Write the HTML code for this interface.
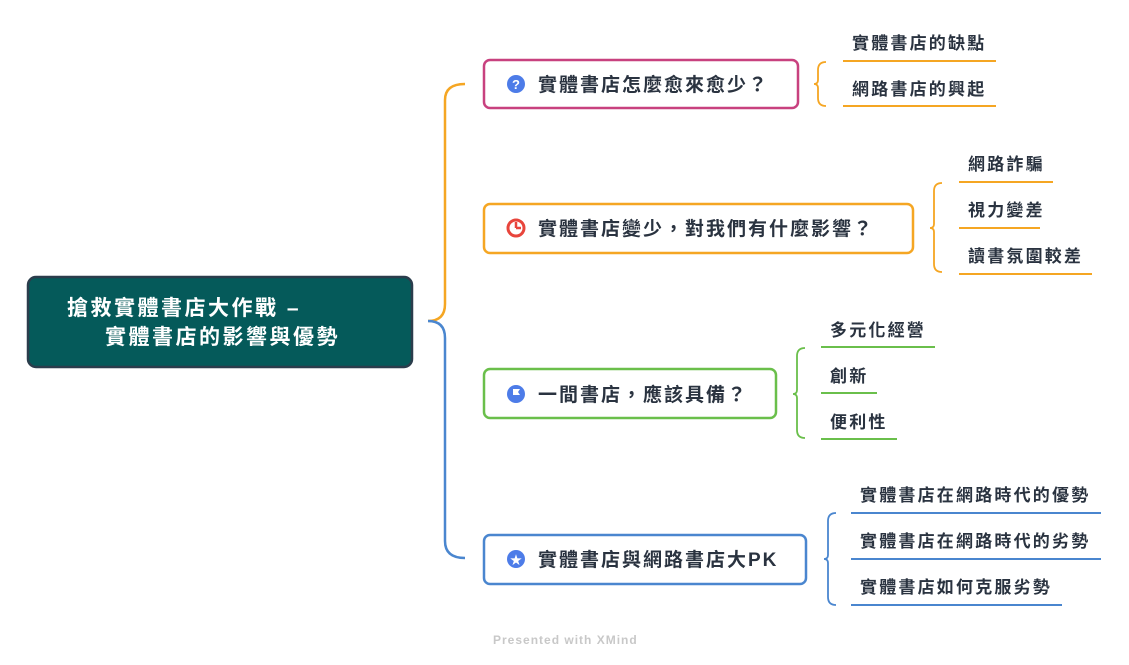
<!DOCTYPE html>
<html><head><meta charset="utf-8"><style>
html,body{margin:0;padding:0;background:#fff;}
svg{display:block;}
text{font-family:"Liberation Sans","Noto Sans CJK TC",sans-serif;font-weight:bold;}
.b{font-size:19px;letter-spacing:2px;}
.l{font-size:17px;letter-spacing:2.2px;}
</style></head><body>
<svg width="1129" height="665" viewBox="0 0 1129 665" xmlns="http://www.w3.org/2000/svg">
<path d="M428,321 Q445,321 445,304 L445,100 Q445,84 465,84" fill="none" stroke="#f5a623" stroke-width="2.5"/>
<path d="M428,321 Q445,321 445,338 L445,541 Q445,558 465,558" fill="none" stroke="#4a86cf" stroke-width="2.5"/>
<rect x="28" y="277" width="384" height="90" rx="8" fill="#055a5a" stroke="#2b3d4c" stroke-width="2.5"/>
<text x="67" y="315" font-size="21" letter-spacing="2.5" fill="#fff">搶救實體書店大作戰 –</text>
<text x="105" y="344" font-size="21" letter-spacing="2.5" fill="#fff">實體書店的影響與優勢</text>

<rect x="484" y="60" width="314" height="48" rx="6" fill="#fff" stroke="#c8417f" stroke-width="2.5"/>
<circle cx="516" cy="84" r="9" fill="#4d7ce8"/><text x="516" y="89" font-size="13" fill="#fff" text-anchor="middle">?</text>
<text x="538" y="91" class="b" fill="#2a3340">實體書店怎麼愈來愈少？</text>
<path d="M826,62 Q818,62 818,70 L818,80 Q818,84 814,84 Q818,84 818,88 L818,98 Q818,106 826,106" fill="none" stroke="#f5a623" stroke-width="1.8"/>
<text x="852" y="49" class="l" fill="#2a3340">實體書店的缺點</text>
<line x1="843" y1="61" x2="996" y2="61" stroke="#f5a623" stroke-width="2"/>
<text x="852" y="95" class="l" fill="#2a3340">網路書店的興起</text>
<line x1="843" y1="106" x2="996" y2="106" stroke="#f5a623" stroke-width="2"/>

<rect x="484" y="204" width="429" height="49" rx="6" fill="#fff" stroke="#f5a623" stroke-width="2.5"/>
<circle cx="516" cy="228" r="8" fill="none" stroke="#e8453c" stroke-width="3"/><path d="M516,228 L516,222 M516,228 L521,228" stroke="#e8453c" stroke-width="2.5"/>
<text x="538" y="235" class="b" fill="#2a3340">實體書店變少，對我們有什麼影響？</text>
<path d="M942,183 Q934,183 934,191 L934,224 Q934,228 930,228 Q934,228 934,232 L934,264 Q934,272 942,272" fill="none" stroke="#f5a623" stroke-width="1.8"/>
<text x="968" y="170" class="l" fill="#2a3340">網路詐騙</text>
<line x1="959" y1="182" x2="1053" y2="182" stroke="#f5a623" stroke-width="2"/>
<text x="968" y="216" class="l" fill="#2a3340">視力變差</text>
<line x1="959" y1="228" x2="1040" y2="228" stroke="#f5a623" stroke-width="2"/>
<text x="968" y="262" class="l" fill="#2a3340">讀書氛圍較差</text>
<line x1="959" y1="274" x2="1092" y2="274" stroke="#f5a623" stroke-width="2"/>

<rect x="484" y="369" width="292" height="49" rx="6" fill="#fff" stroke="#6abf4b" stroke-width="2.5"/>
<circle cx="516" cy="394" r="9" fill="#4d7ce8"/><path d="M513,399 L513,389 L520,389 L518,392 L520,395 L513,395" fill="#fff"/>
<text x="538" y="401" class="b" fill="#2a3340">一間書店，應該具備？</text>
<path d="M805,348 Q797,348 797,356 L797,390 Q797,394 793,394 Q797,394 797,398 L797,430 Q797,438 805,438" fill="none" stroke="#6abf4b" stroke-width="1.8"/>
<text x="830" y="336" class="l" fill="#2a3340">多元化經營</text>
<line x1="821" y1="347" x2="935" y2="347" stroke="#6abf4b" stroke-width="2"/>
<text x="830" y="382" class="l" fill="#2a3340">創新</text>
<line x1="821" y1="393" x2="877" y2="393" stroke="#6abf4b" stroke-width="2"/>
<text x="830" y="428" class="l" fill="#2a3340">便利性</text>
<line x1="821" y1="439" x2="897" y2="439" stroke="#6abf4b" stroke-width="2"/>

<rect x="484" y="535" width="322" height="49" rx="6" fill="#fff" stroke="#4a86cf" stroke-width="2.5"/>
<circle cx="516" cy="559" r="9" fill="#4d7ce8"/><text x="516" y="564" font-size="12" fill="#fff" text-anchor="middle">★</text>
<text x="538" y="566" class="b" fill="#2a3340">實體書店與網路書店大PK</text>
<path d="M836,513 Q828,513 828,521 L828,555 Q828,559 824,559 Q828,559 828,563 L828,597 Q828,605 836,605" fill="none" stroke="#4a86cf" stroke-width="1.8"/>
<text x="860" y="501" class="l" fill="#2a3340">實體書店在網路時代的優勢</text>
<line x1="851" y1="513" x2="1101" y2="513" stroke="#4a86cf" stroke-width="2"/>
<text x="860" y="547" class="l" fill="#2a3340">實體書店在網路時代的劣勢</text>
<line x1="851" y1="559" x2="1101" y2="559" stroke="#4a86cf" stroke-width="2"/>
<text x="860" y="593" class="l" fill="#2a3340">實體書店如何克服劣勢</text>
<line x1="851" y1="605" x2="1062" y2="605" stroke="#4a86cf" stroke-width="2"/>

<text x="493" y="644" font-size="12" letter-spacing="1" fill="#c8c8c8">Presented with XMind</text>
</svg>
</body></html>
